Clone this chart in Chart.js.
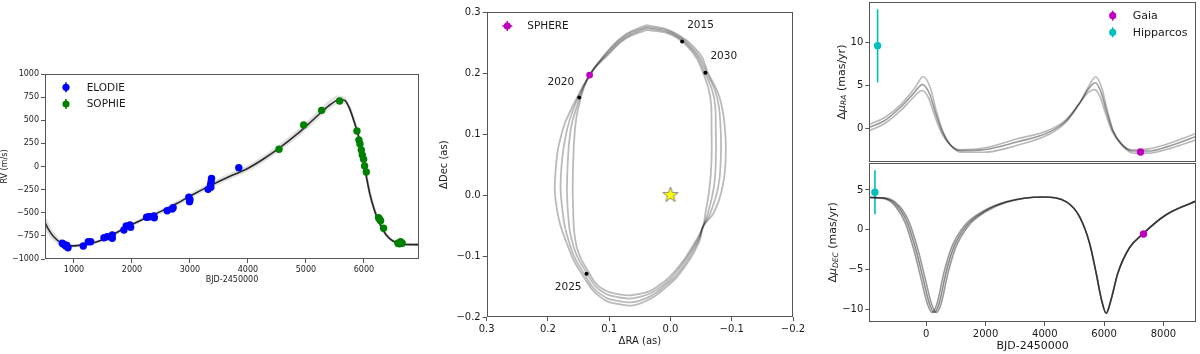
<!DOCTYPE html>
<html>
<head>
<meta charset="utf-8">
<script src="https://cdn.jsdelivr.net/npm/chart.js@4.4.0/dist/chart.umd.min.js"></script>
<style>
  body { margin: 0; background: #fff; width: 1200px; height: 354px; overflow: hidden; position: relative; }
  canvas { position: absolute; }
</style>
</head>
<body>
<canvas id="rv" width="430" height="227" style="left:0;top:60px"></canvas>
<canvas id="orbit" width="372" height="349" style="left:438px;top:0"></canvas>
<canvas id="pmra" width="375" height="184" style="left:825px;top:-12px"></canvas>
<canvas id="pmdec" width="375" height="205" style="left:825px;top:150px"></canvas>
<script>
// ---- RV panel ----
const rvTicksX = [1000, 2000, 3000, 4000, 5000, 6000];
const rvTicksY = [-1000, -750, -500, -250, 0, 250, 500, 750, 1000];

const elodieX = [798, 820, 857, 874, 897, 1160, 1246, 1287, 1517, 1574, 1660, 1660, 1861, 1901, 1965, 1977,
                 2252, 2280, 2309, 2378, 2385, 2607, 2693, 2710, 2981, 2993, 3000, 3313, 3354, 3360, 3365, 3372, 3842];
const elodieY = [-830, -840, -859, -850, -878, -859, -813, -813, -770, -759, -741, -776, -686, -643, -632, -658,
                 -549, -545, -542, -535, -555, -478, -459, -445, -333, -380, -360, -247, -200, -225, -165, -128, -13];

const sophieX = [4536, 4961, 5271, 5581, 5880, 5914, 5932, 5955, 5972, 5995, 6012, 6041, 6253, 6270, 6288, 6339, 6586, 6610, 6632, 6661];
const sophieY = [186, 449, 607, 708, 384, 286, 243, 178, 124, 78, 5, -59, -553, -570, -586, -668, -830, -835, -813, -830];

// 모델 곡선
const rvMain = [[500,-605],[560,-680],[650,-760],[800,-835],[970,-858],[1170,-845],[1400,-813],[1630,-751],
  [1920,-651],[2200,-568],[2490,-488],[2780,-398],[3070,-297],[3350,-207],[3690,-105],[3970,-30],[4260,78],
  [4550,204],[4830,341],[5120,503],[5410,665],[5580,725],[5670,715],[5750,629],[5840,467],[5930,268],
  [6010,-2],[6100,-290],[6180,-470],[6270,-614],[6385,-741],[6500,-805],[6670,-841],[6950,-845]];
const rvUpper = [[500,-555],[560,-640],[650,-730],[800,-822],[970,-852],[1170,-842],[1400,-808],[1630,-744],
  [1920,-643],[2200,-558],[2490,-476],[2780,-385],[3070,-282],[3350,-190],[3690,-86],[3970,-10],[4260,100],
  [4550,228],[4830,367],[5120,530],[5400,695],[5560,755],[5660,740],[5750,645],[5840,475],[5930,272],
  [6010,0],[6100,-285],[6180,-465],[6270,-608],[6385,-736],[6500,-800],[6670,-838],[6950,-843]];
const rvLower = [[500,-655],[560,-720],[650,-790],[800,-848],[970,-862],[1170,-848],[1400,-817],[1630,-757],
  [1920,-658],[2200,-577],[2490,-498],[2780,-410],[3070,-310],[3350,-222],[3690,-122],[3970,-48],[4260,58],
  [4550,183],[4830,318],[5120,478],[5410,640],[5590,700],[5680,695],[5760,615],[5850,455],[5935,262],
  [6015,-5],[6105,-295],[6185,-475],[6275,-620],[6390,-746],[6505,-810],[6670,-844],[6950,-847]];

// ---- orbit panel ----
const orbitTicks = [-0.2, -0.1, 0.0, 0.1, 0.2, 0.3];
const orbitInner = [[0.039,0.271],[-0.002,0.263],[-0.037,0.233],[-0.053,0.201],[-0.065,0.161],[-0.067,0.107],
  [-0.067,0.057],[-0.064,0.014],[-0.057,-0.030],[-0.053,-0.052],[-0.042,-0.074],[-0.013,-0.118],[0.023,-0.151],
  [0.050,-0.162],[0.083,-0.163],[0.115,-0.151],[0.132,-0.129],[0.153,-0.085],[0.159,-0.019],[0.159,0.046],
  [0.156,0.107],[0.150,0.145],[0.132,0.197],[0.102,0.230],[0.073,0.257],[0.039,0.271]];
const orbitMid1 = [[0.039,0.274],[-0.002,0.265],[-0.040,0.233],[-0.056,0.201],[-0.071,0.161],[-0.074,0.107],
  [-0.074,0.057],[-0.071,0.014],[-0.061,-0.030],[-0.053,-0.052],[-0.044,-0.074],[-0.016,-0.118],[0.017,-0.151],
  [0.050,-0.167],[0.083,-0.168],[0.115,-0.156],[0.136,-0.129],[0.158,-0.085],[0.168,-0.019],[0.168,0.046],
  [0.163,0.107],[0.153,0.145],[0.132,0.197],[0.102,0.232],[0.073,0.259],[0.039,0.274]];
const orbitMid2 = [[0.039,0.276],[-0.002,0.267],[-0.043,0.233],[-0.059,0.201],[-0.076,0.161],[-0.082,0.107],
  [-0.082,0.057],[-0.078,0.014],[-0.065,-0.030],[-0.053,-0.052],[-0.046,-0.074],[-0.020,-0.118],[0.012,-0.151],
  [0.050,-0.173],[0.083,-0.174],[0.115,-0.162],[0.141,-0.129],[0.163,-0.085],[0.177,-0.019],[0.178,0.046],
  [0.169,0.107],[0.157,0.145],[0.132,0.197],[0.102,0.235],[0.073,0.262],[0.039,0.276]];
const orbitOuter = [[0.039,0.279],[-0.002,0.269],[-0.047,0.233],[-0.061,0.201],[-0.080,0.161],[-0.089,0.107],
  [-0.090,0.057],[-0.085,0.014],[-0.070,-0.030],[-0.053,-0.052],[-0.048,-0.074],[-0.023,-0.118],[0.007,-0.151],
  [0.050,-0.178],[0.083,-0.179],[0.115,-0.167],[0.145,-0.129],[0.167,-0.085],[0.186,-0.019],[0.187,0.046],
  [0.176,0.107],[0.160,0.145],[0.132,0.197],[0.102,0.237],[0.073,0.264],[0.039,0.279]];
const yearLabels = ['2015', '2020', '2025', '2030'];
const yearRA = [-0.019, 0.149, 0.137, -0.057];
const yearDec = [0.252, 0.160, -0.129, 0.201];
const yearTextRA = [-0.049, 0.179, 0.167, -0.087];
const yearTextDec = [0.279, 0.186, -0.152, 0.228];
const sphereRA = [0.132];
const sphereDec = [0.197];
const starRA = [0];
const starDec = [0];

// ---- proper motion panels ----
const pmTicksX = [0, 2000, 4000, 6000, 8000];
const pmRaTicks = [0, 5, 10];
const pmDecTicks = [-10, -5, 0, 5];
const pmRaMain = [[-1920,0.1],[-1400,0.9],[-850,2.5],[-400,4.15],[-130,5.1],[100,4.1],[320,1.7],[550,-0.45],
  [820,-1.95],[1150,-2.6],[1950,-2.5],[3050,-1.6],[4150,-0.45],[4730,0.9],[5170,2.9],[5500,4.7],[5710,5.3],
  [5900,4.15],[6070,2.1],[6290,-0.25],[6630,-2.0],[6960,-2.65],[7500,-2.65],[8080,-2.2],[9100,-0.95]];
const pmRaHigh = [[-1920,0.45],[-1400,1.25],[-850,2.8],[-400,4.6],[-100,6.0],[130,4.8],[350,1.9],[580,-0.5],
  [850,-2.1],[1200,-2.8],[1950,-2.8],[3050,-2.0],[4150,-0.7],[4730,0.75],[5170,2.9],[5500,5.0],[5720,6.0],
  [5930,4.6],[6100,2.2],[6320,-0.4],[6660,-2.2],[7000,-2.9],[7500,-2.9],[8080,-2.5],[9100,-1.35]];
const pmRaLow = [[-1920,-0.3],[-1400,0.55],[-850,2.1],[-400,3.7],[-150,4.4],[70,3.6],[290,1.4],[520,-0.6],
  [800,-1.9],[1130,-2.5],[1950,-2.3],[3050,-1.25],[4150,-0.2],[4730,1.05],[5170,2.9],[5480,4.2],[5690,4.5],
  [5870,3.6],[6040,1.8],[6260,-0.3],[6600,-1.9],[6930,-2.5],[7500,-2.4],[8080,-1.9],[9100,-0.6]];

const pmDecTail = [[4730,3.5],[5175,1.6],[5510,-1.7],[5735,-5.5],[5900,-8.6],[6070,-10.5],[6235,-8.8],
  [6460,-5.5],[6850,-2.3],[7300,-0.55],[8080,1.85],[9100,3.6]];
const pmDecMain = [[-1920,4.05],[-1400,3.95],[-960,2.9],[-630,0.8],[-350,-2.5],[-120,-5.9],[100,-9.2],
  [270,-10.4],[440,-9.2],[660,-5.5],[940,-2.1],[1380,0.6],[1940,2.25],[2720,3.5],[3950,4.1]];
const pmDecEarly = [[-1920,4.05],[-1400,3.9],[-1030,2.9],[-700,0.8],[-420,-2.5],[-190,-5.9],[30,-9.2],
  [200,-10.4],[370,-9.2],[590,-5.5],[870,-2.1],[1310,0.6],[1900,2.3],[2720,3.55],[3950,4.1]];
const pmDecLate = [[-1920,4.05],[-1400,4.0],[-890,2.9],[-560,0.8],[-280,-2.5],[-50,-5.9],[170,-9.2],
  [340,-10.4],[510,-9.2],[730,-5.5],[1010,-2.1],[1450,0.6],[1980,2.2],[2720,3.45],[3950,4.1]];

const hipRaX = [-1640], hipRa = [9.6], hipRaLo = [5.33], hipRaHi = [13.85];
const gaiaRaX = [7229], gaiaRa = [-2.77];
const hipDecX = [-1730], hipDec = [4.7], hipDecLo = [1.93], hipDecHi = [7.48];
const gaiaDecX = [7330], gaiaDec = [-0.55];

// ---- 공통 스타일 ----
const FONT = 'DejaVu Sans';
const AXIS_COLOR = '#555555';
const TEXT_COLOR = '#1a1a1a';
const BLUE = '#0000ff', GREEN = '#008000', MAGENTA = '#bf00bf', CYAN = '#00bfbf';

const fmtMinus = v => String(v).replace('-', '\u2212');
const fmtOne = v => fmtMinus(Number(v).toFixed(1));

function linAxis(o) {
  return {
    type: 'linear',
    display: o.display !== false,
    min: o.min, max: o.max, reverse: !!o.reverse,
    afterBuildTicks: s => { s.ticks = o.ticks.map(v => ({ value: v })); },
    afterFit: s => {
      if (o.width != null) s.width = o.width;
      if (o.height != null) s.height = o.height;
    },
    grid: { drawOnChartArea: false, drawTicks: true, tickLength: 4, color: AXIS_COLOR },
    border: { display: false },
    ticks: {
      autoSkip: false, maxRotation: 0, padding: 2, color: TEXT_COLOR,
      font: { family: FONT, size: o.size }, callback: o.fmt || fmtMinus
    },
    title: o.title
      ? { display: true, text: o.title, color: TEXT_COLOR, font: { family: FONT, size: o.titleSize }, padding: o.titlePad }
      : { display: false }
  };
}

const toXY = pairs => pairs.map(p => ({ x: p[0], y: p[1] }));
const zipXY = (xs, ys) => xs.map((x, i) => ({ x: x, y: ys[i] }));

function curve(pairs, color, width, order) {
  return { data: toXY(pairs), showLine: true, borderColor: color, borderWidth: width,
           pointRadius: 0, cubicInterpolationMode: 'monotone', order: order };
}
function loop(pairs, color, width, order) {
  return { data: toXY(pairs), showLine: true, borderColor: color, borderWidth: width,
           pointRadius: 0, tension: 0.45, order: order };
}
function dots(xs, ys, color, r, order) {
  return { data: zipXY(xs, ys), showLine: false, pointRadius: r, pointBackgroundColor: color,
           pointBorderColor: color, pointBorderWidth: 0, order: order };
}

function baseOptions(pad, scales) {
  return {
    responsive: false, animation: false, events: [],
    layout: { padding: pad },
    plugins: { legend: { display: false }, tooltip: { enabled: false } },
    scales: scales
  };
}

const framePlugin = {
  id: 'frame',
  afterDatasetsDraw(chart) {
    const a = chart.chartArea, ctx = chart.ctx;
    ctx.save();
    ctx.strokeStyle = AXIS_COLOR;
    ctx.lineWidth = 1;
    ctx.strokeRect(Math.round(a.left) + 0.5, Math.round(a.top) + 0.5,
                   Math.round(a.right - a.left) - 1, Math.round(a.bottom - a.top) - 1);
    ctx.restore();
  }
};

// 범례: 오차막대 표시 + 원 + 텍스트
function legendPlugin(items, size) {
  return {
    id: 'customLegend',
    afterDraw(chart) {
      const ctx = chart.ctx;
      ctx.save();
      items.forEach(it => {
        ctx.strokeStyle = it.color;
        ctx.lineWidth = 1.5;
        ctx.beginPath();
        ctx.moveTo(it.x, it.y - 5); ctx.lineTo(it.x, it.y + 5);
        if (it.cross) { ctx.moveTo(it.x - 5, it.y); ctx.lineTo(it.x + 5, it.y); }
        ctx.stroke();
        ctx.fillStyle = it.color;
        ctx.beginPath();
        ctx.arc(it.x, it.y, 3.6, 0, Math.PI * 2);
        ctx.fill();
        ctx.fillStyle = TEXT_COLOR;
        ctx.font = size + 'px "' + FONT + '"';
        ctx.textBaseline = 'middle';
        ctx.textAlign = 'left';
        ctx.fillText(it.label, it.tx, it.y + 0.5);
      });
      ctx.restore();
    }
  };
}

function errorBarPlugin(xs, los, his, color) {
  return {
    id: 'errbars',
    beforeDatasetsDraw(chart) {
      const ctx = chart.ctx, sx = chart.scales.x, sy = chart.scales.y;
      ctx.save();
      ctx.strokeStyle = color;
      ctx.lineWidth = 1.6;
      xs.forEach((x, i) => {
        const px = sx.getPixelForValue(x);
        ctx.beginPath();
        ctx.moveTo(px, sy.getPixelForValue(los[i]));
        ctx.lineTo(px, sy.getPixelForValue(his[i]));
        ctx.stroke();
      });
      ctx.restore();
    }
  };
}

// Δμ_RA 형식의 세로 제목
function muTitlePlugin(sub, cx) {
  return {
    id: 'muTitle',
    afterDraw(chart) {
      const ctx = chart.ctx, a = chart.chartArea;
      const cy = (a.top + a.bottom) / 2;
      const parts = [
        { t: 'Δ', f: '11px "' + FONT + '"', dy: 0 },
        { t: 'μ', f: 'italic 11px "' + FONT + '"', dy: 0 },
        { t: sub, f: 'italic 7.5px "' + FONT + '"', dy: 2.5 },
        { t: ' (mas/yr)', f: '11px "' + FONT + '"', dy: 0 }
      ];
      ctx.save();
      ctx.translate(cx, cy);
      ctx.rotate(-Math.PI / 2);
      ctx.fillStyle = TEXT_COLOR;
      ctx.textBaseline = 'middle';
      ctx.textAlign = 'left';
      let total = 0;
      parts.forEach(p => { ctx.font = p.f; p.w = ctx.measureText(p.t).width; total += p.w; });
      let x = -total / 2;
      parts.forEach(p => { ctx.font = p.f; ctx.fillText(p.t, x, p.dy); x += p.w; });
      ctx.restore();
    }
  };
}

function starImage(r) {
  const c = document.createElement('canvas');
  const s = Math.ceil(r * 2 + 4);
  c.width = c.height = s;
  const g = c.getContext('2d');
  g.beginPath();
  for (let i = 0; i < 10; i++) {
    const ang = -Math.PI / 2 + i * Math.PI / 5;
    const rr = i % 2 ? r * 0.4 : r;
    g.lineTo(s / 2 + rr * Math.cos(ang), s / 2 + rr * Math.sin(ang));
  }
  g.closePath();
  g.fillStyle = '#ffff00';
  g.fill();
  g.strokeStyle = '#666666';
  g.lineWidth = 0.8;
  g.stroke();
  return c;
}

// ---- RV chart ----
new Chart(document.getElementById('rv'), {
  type: 'scatter',
  data: {
    datasets: [
      dots(elodieX, elodieY, BLUE, 3.7, 0),
      dots(sophieX, sophieY, GREEN, 3.7, 0),
      curve(rvMain, 'rgba(20,20,20,0.9)', 1.6, 1),
      curve(rvUpper, 'rgba(0,0,0,0.12)', 2.5, 2),
      curve(rvLower, 'rgba(0,0,0,0.12)', 2.5, 2)
    ]
  },
  options: baseOptions({ top: 14, right: 11, bottom: 0, left: 0 }, {
    x: linAxis({ min: 500, max: 6950, ticks: rvTicksX, height: 28, size: 8,
                 title: 'BJD-2450000', titleSize: 8, titlePad: { top: 0, bottom: 2 } }),
    y: linAxis({ min: -1000, max: 1000, ticks: rvTicksY, width: 45, size: 8,
                 title: 'RV (m/s)', titleSize: 8, titlePad: 0 })
  }),
  plugins: [framePlugin, legendPlugin([
    { x: 66, y: 27.3, tx: 86.7, color: BLUE, label: 'ELODIE' },
    { x: 66, y: 44, tx: 86.7, color: GREEN, label: 'SOPHIE' }
  ], 10.5)]
});

// ---- orbit chart ----
const yearLabelPlugin = {
  id: 'yearLabels',
  afterDatasetsDraw(chart) {
    const ctx = chart.ctx, sx = chart.scales.x, sy = chart.scales.y;
    ctx.save();
    ctx.fillStyle = TEXT_COLOR;
    ctx.font = '10.5px "' + FONT + '"';
    ctx.textAlign = 'center';
    ctx.textBaseline = 'middle';
    yearLabels.forEach((t, i) => {
      ctx.fillText(t, sx.getPixelForValue(yearTextRA[i]), sy.getPixelForValue(yearTextDec[i]));
    });
    ctx.restore();
  }
};

const orbitGray = 'rgba(0,0,0,0.27)';
new Chart(document.getElementById('orbit'), {
  type: 'scatter',
  data: {
    datasets: [
      { data: zipXY(starRA, starDec), pointStyle: starImage(8), pointRadius: 8, order: 0 },
      dots(sphereRA, sphereDec, MAGENTA, 3.4, 1),
      dots(yearRA, yearDec, '#000000', 2, 1),
      loop(orbitInner, orbitGray, 1.8, 2),
      loop(orbitMid1, orbitGray, 1.8, 2),
      loop(orbitMid2, orbitGray, 1.8, 2),
      loop(orbitOuter, orbitGray, 1.8, 2)
    ]
  },
  options: baseOptions({ top: 12.3, right: 17, bottom: 0, left: 0 }, {
    x: linAxis({ min: -0.2, max: 0.3, reverse: true, ticks: orbitTicks, height: 32, size: 10, fmt: fmtOne,
                 title: 'ΔRA (as)', titleSize: 10, titlePad: { top: 0, bottom: 2 } }),
    y: linAxis({ min: -0.2, max: 0.3, ticks: orbitTicks, width: 48.7, size: 10, fmt: fmtOne,
                 title: 'ΔDec (as)', titleSize: 10, titlePad: 0 })
  }),
  plugins: [framePlugin, yearLabelPlugin, legendPlugin([
    { x: 69.3, y: 26, tx: 89.3, color: MAGENTA, label: 'SPHERE', cross: true }
  ], 10.5)]
});

// ---- Δμ_RA chart ----
new Chart(document.getElementById('pmra'), {
  type: 'scatter',
  data: {
    datasets: [
      dots(hipRaX, hipRa, CYAN, 3.7, 0),
      dots(gaiaRaX, gaiaRa, MAGENTA, 3.7, 0),
      curve(pmRaMain, 'rgba(0,0,0,0.4)', 1.6, 1),
      curve(pmRaHigh, 'rgba(0,0,0,0.28)', 1.6, 2),
      curve(pmRaLow, 'rgba(0,0,0,0.28)', 1.6, 2)
    ]
  },
  options: baseOptions({ top: 14, right: 1.3, bottom: 10, left: 0 }, {
    x: linAxis({ display: false, min: -1920, max: 9100, ticks: pmTicksX }),
    y: linAxis({ min: -3.93, max: 14.7, ticks: pmRaTicks, width: 44.3, size: 10 })
  }),
  plugins: [framePlugin, errorBarPlugin(hipRaX, hipRaLo, hipRaHi, CYAN), muTitlePlugin('RA', 16.7),
    legendPlugin([
      { x: 287.7, y: 27.7, tx: 307.7, color: MAGENTA, label: 'Gaia' },
      { x: 287.7, y: 44.3, tx: 307.7, color: CYAN, label: 'Hipparcos' }
    ], 11)]
});

// ---- Δμ_DEC chart ----
new Chart(document.getElementById('pmdec'), {
  type: 'scatter',
  data: {
    datasets: [
      dots(hipDecX, hipDec, CYAN, 3.7, 0),
      dots(gaiaDecX, gaiaDec, MAGENTA, 3.7, 0),
      curve(pmDecMain.concat(pmDecTail), 'rgba(0,0,0,0.45)', 1.6, 1),
      curve(pmDecEarly.concat(pmDecTail), 'rgba(0,0,0,0.4)', 1.6, 2),
      curve(pmDecLate.concat(pmDecTail), 'rgba(0,0,0,0.4)', 1.6, 2)
    ]
  },
  options: baseOptions({ top: 12.7, right: 1.3, bottom: 0, left: 0 }, {
    x: linAxis({ min: -1920, max: 9100, ticks: pmTicksX, height: 33, size: 10,
                 title: 'BJD-2450000', titleSize: 11, titlePad: { top: 0, bottom: 2 } }),
    y: linAxis({ min: -11.6, max: 8.42, ticks: pmDecTicks, width: 44.3, size: 10 })
  }),
  plugins: [framePlugin, errorBarPlugin(hipDecX, hipDecLo, hipDecHi, CYAN), muTitlePlugin('DEC', 8.3)]
});
</script>
</body>
</html>
